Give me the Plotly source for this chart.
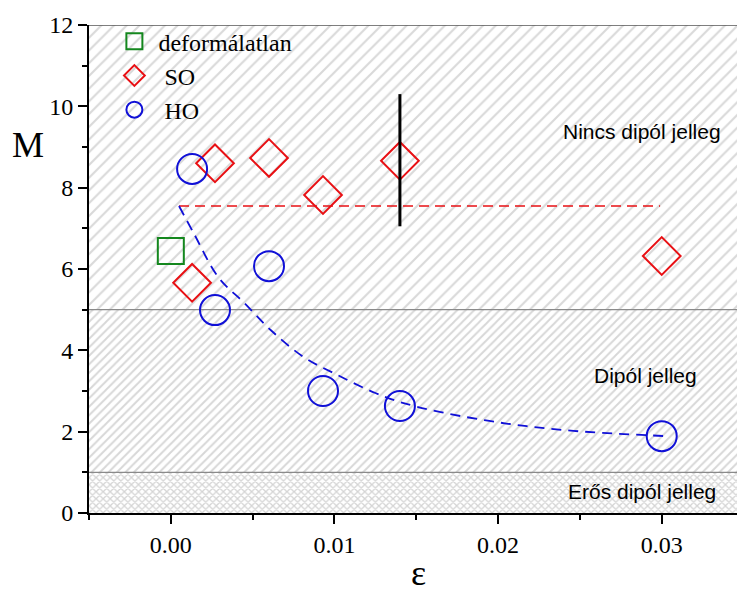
import plotly.graph_objects as go

# ---- data ----
eps_undeformed = [0.0]
M_undeformed = [6.44]

eps_SO = [0.0013, 0.0027, 0.0060, 0.0093, 0.0140, 0.0300]
M_SO = [5.66, 8.60, 8.73, 7.82, 8.66, 6.32]

eps_HO = [0.0013, 0.0027, 0.0060, 0.0093, 0.0140, 0.0300]
M_HO = [8.46, 4.99, 6.07, 3.00, 2.63, 1.89]

# vertical error range at eps = 0.014
err_eps = [0.014, 0.014]
err_M = [7.05, 10.30]

# red dashed mean line (SO)
so_line_eps = [0.0005, 0.0299]
so_line_M = [7.55, 7.55]

# blue dashed decay curve (HO)
ho_curve_eps = [0.0005, 0.0014, 0.0029, 0.0045, 0.0061, 0.0081, 0.0102,
                0.0125, 0.0140, 0.0165, 0.0205, 0.0246, 0.0303]
ho_curve_M = [7.55, 6.88, 5.80, 5.16, 4.50, 3.84, 3.39,
              2.95, 2.73, 2.48, 2.20, 2.02, 1.89]

# regions
region_bounds = [0, 1, 5, 12]
region_labels = ["Erős dipól jelleg", "Dipól jelleg", "Nincs dipól jelleg"]

x_range = [-0.005, 0.0346]

RED = "rgb(232,16,20)"
BLUE = "rgb(16,16,215)"
GREEN = "rgb(20,135,30)"
SERIF = "Liberation Serif, Times New Roman, serif"

fig = go.Figure()

patterns = [
    dict(shape="x", size=5, solidity=0.45, fgcolor="#aaaaaa", bgcolor="white"),
    dict(shape="/", size=6, solidity=0.32, fgcolor="#b0b0b0", bgcolor="white"),
    dict(shape="/", size=9, solidity=0.24, fgcolor="#b4b4b4", bgcolor="white"),
]
for i in range(3):
    lo, hi = region_bounds[i], region_bounds[i + 1]
    fig.add_trace(go.Scatter(
        x=[x_range[0], x_range[1], x_range[1], x_range[0], x_range[0]],
        y=[lo, lo, hi, hi, lo],
        fill="toself", fillpattern=patterns[i], fillcolor="white",
        mode="lines", line=dict(width=0), showlegend=False, hoverinfo="skip"))

# boundary lines between regions
for b in region_bounds[1:3]:
    fig.add_trace(go.Scatter(x=x_range, y=[b, b], mode="lines",
                             line=dict(color="#8a8a8a", width=1.2),
                             showlegend=False, hoverinfo="skip"))
fig.add_trace(go.Scatter(x=x_range, y=[region_bounds[3]] * 2, mode="lines",
                         line=dict(color="#555555", width=1.5),
                         showlegend=False, hoverinfo="skip"))

fig.add_trace(go.Scatter(x=so_line_eps, y=so_line_M, mode="lines",
                         line=dict(color=RED, width=1.6, dash="10px,6px"),
                         showlegend=False))
fig.add_trace(go.Scatter(x=ho_curve_eps, y=ho_curve_M, mode="lines",
                         line=dict(color=BLUE, width=1.8, dash="10px,7px", shape="spline"),
                         showlegend=False))

fig.add_trace(go.Scatter(x=eps_undeformed, y=M_undeformed, mode="markers",
                         name="deformálatlan",
                         marker=dict(symbol="square-open", size=26,
                                     color=GREEN, line=dict(width=2, color=GREEN))))
fig.add_trace(go.Scatter(x=eps_SO, y=M_SO, mode="markers", name=" SO",
                         marker=dict(symbol="diamond-open", size=29,
                                     color=RED, line=dict(width=2, color=RED))))
fig.add_trace(go.Scatter(x=eps_HO, y=M_HO, mode="markers", name=" HO",
                         marker=dict(symbol="circle-open", size=30,
                                     color=BLUE, line=dict(width=2, color=BLUE))))

fig.add_trace(go.Scatter(x=err_eps, y=err_M, mode="lines",
                         line=dict(color="black", width=3), showlegend=False))

label_pos = [(0.0288, 0.52), (0.0290, 3.37), (0.0288, 9.37)]
for txt, (lx, ly) in zip(region_labels, label_pos):
    fig.add_annotation(x=lx, y=ly, text=txt, showarrow=False,
                       font=dict(family="Liberation Sans", size=21, color="black"))

fig.add_annotation(xref="paper", yref="paper", x=-0.094, y=0.755, text="M",
                   showarrow=False, xanchor="center", yanchor="middle",
                   font=dict(family=SERIF, size=36, color="black"))
fig.add_annotation(xref="paper", yref="paper", x=0.508, y=-0.122, text="ε",
                   showarrow=False, xanchor="center", yanchor="middle",
                   font=dict(family=SERIF, size=36, color="black"))

tickfont = dict(family=SERIF, size=24, color="black")
fig.update_xaxes(range=x_range, tick0=0, dtick=0.01, tickformat=".2f",
                 ticks="outside", ticklen=9, tickwidth=2, tickcolor="black",
                 showline=True, linecolor="black", linewidth=2,
                 showgrid=False, zeroline=False, tickfont=tickfont,
                 minor=dict(dtick=0.005, tick0=0, ticks="outside", ticklen=5,
                            tickwidth=2, tickcolor="black", showgrid=False))
fig.update_yaxes(range=[0, 12], tick0=0, dtick=2,
                 ticks="outside", ticklen=9, tickwidth=2, tickcolor="black",
                 showline=True, linecolor="black", linewidth=2,
                 showgrid=False, zeroline=False, tickfont=tickfont,
                 minor=dict(dtick=1, ticks="outside", ticklen=5,
                            tickwidth=2, tickcolor="black", showgrid=False))

fig.update_layout(
    width=737, height=592,
    margin=dict(l=89, r=0, t=25, b=79),
    paper_bgcolor="white", plot_bgcolor="white",
    font=dict(family=SERIF, color="black"),
    showlegend=True,
    legend=dict(x=0.033, y=1.012, xanchor="left", yanchor="top",
                bgcolor="rgba(0,0,0,0)", borderwidth=0,
                font=dict(family=SERIF, size=24, color="black"),
                tracegroupgap=0, itemsizing="trace", itemwidth=38),
)

fig.write_html("out.html")
